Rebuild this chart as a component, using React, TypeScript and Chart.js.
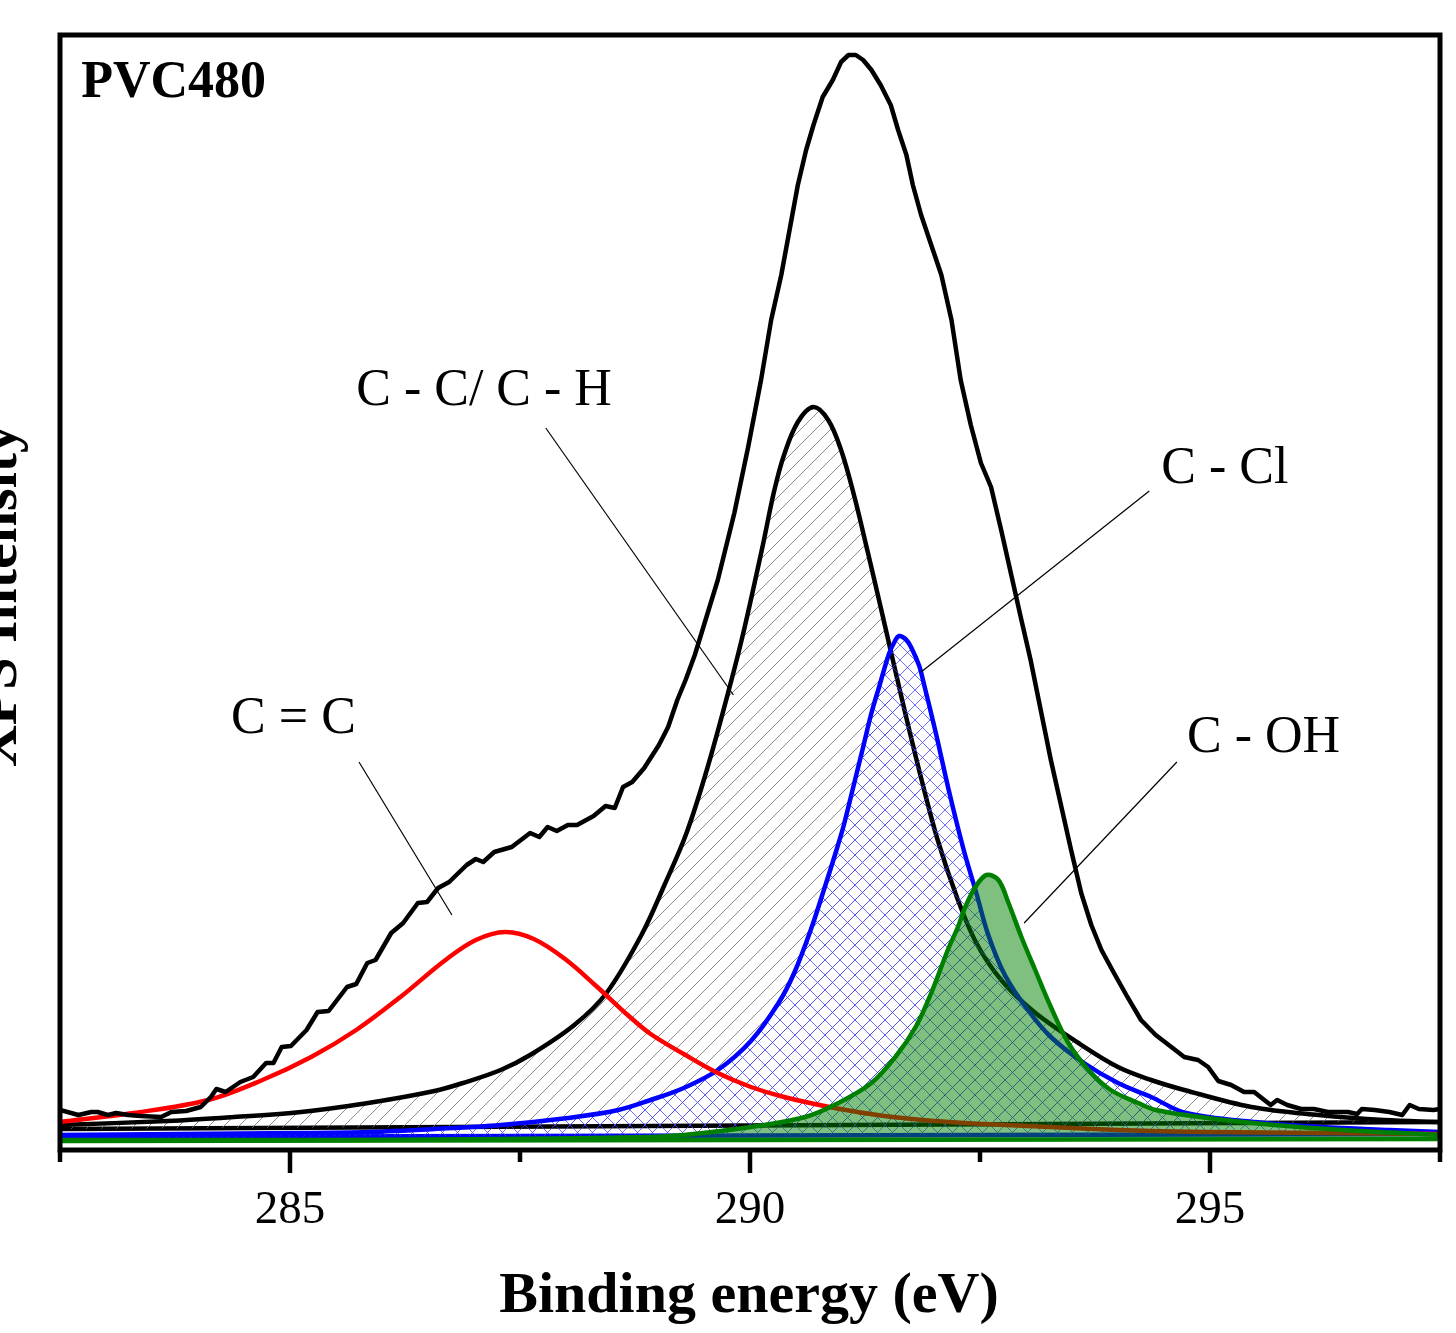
import React, { useEffect, useRef } from "react";
import { Chart, registerables } from "chart.js";

Chart.register(...registerables);

// ---------------- axis ranges & ticks ----------------
const X_MIN = 282.5;
const X_MAX = 297.5;
const Y_MIN = 0;
const Y_MAX = 1115;
const majorTicks = [285, 290, 295];
const minorTicks = [282.5, 287.5, 292.5, 297.5];

// ---------------- measured envelope (raw spectrum) ----------------
const envelopeEnergy = [
  282.5, 282.70, 282.84, 282.91, 283.02, 283.11, 283.24, 283.38, 283.60, 283.71,
  283.87, 284.03, 284.14, 284.20, 284.30, 284.46, 284.60, 284.74, 284.82, 284.91,
  285.01, 285.18, 285.30, 285.42, 285.62, 285.72, 285.84, 285.93, 286.10, 286.23,
  286.39, 286.49, 286.61, 286.73, 286.92, 287.02, 287.10, 287.22, 287.41, 287.61,
  287.71, 287.80, 287.90, 288.02, 288.12, 288.30, 288.43, 288.53, 288.62, 288.72,
  288.85, 289.01, 289.11, 289.21, 289.30, 289.40, 289.50, 289.65, 289.83, 289.98,
  290.12, 290.23, 290.34, 290.45, 290.52, 290.61, 290.69, 290.79, 290.90, 290.99,
  291.07, 291.15, 291.23, 291.32, 291.42, 291.53, 291.61, 291.70, 291.77, 291.86,
  291.97, 292.08, 292.19, 292.29, 292.40, 292.51, 292.62, 292.73, 292.84, 292.95,
  293.05, 293.16, 293.27, 293.38, 293.49, 293.60, 293.71, 293.82, 293.95, 294.09,
  294.25, 294.41, 294.58, 294.72, 294.87, 294.98, 295.09, 295.23, 295.37, 295.48,
  295.59, 295.66, 295.73, 295.84, 295.99, 296.13, 296.28, 296.50, 296.60, 296.65,
  296.79, 296.95, 297.09, 297.17, 297.27, 297.43, 297.5,
];
const envelopeIntensity = [
  40, 35, 38, 38, 35, 37, 35, 34, 33, 38,
  39, 43, 53, 61, 58, 68, 73, 87, 87, 103,
  104, 120, 138, 139, 163, 166, 187, 190, 217, 227,
  247, 248, 262, 268, 285, 291, 288, 298, 303, 317,
  313, 323, 319, 325, 325, 334, 344, 342, 363, 368,
  382, 405, 423, 450, 470, 495, 525, 570, 637, 703,
  770, 830, 875, 930, 965, 1000, 1025, 1053, 1070, 1088,
  1095, 1095, 1090, 1080, 1065, 1045, 1020, 995, 965, 935,
  905, 875, 830, 770, 725, 687, 663, 620, 575, 530,
  490, 440, 390, 345, 300, 257, 225, 200, 178, 155,
  130, 115, 103, 93, 90, 83, 69, 65, 58, 58,
  50, 45, 50, 45, 41, 41, 38, 38, 36, 41,
  40, 38, 35, 45, 41, 40, 41,
];

// ---------------- background line ----------------
const bgEnergy = [282.5, 297.5];
const bgIntensity = [21, 28];

// ---------------- C - C / C - H component ----------------
const ccEnergy = [
  282.5, 283.67, 284.39, 285.12, 285.85, 286.57, 286.88, 287.29, 287.61, 288.09,
  288.44, 288.82, 289.07, 289.31, 289.54, 289.79, 289.94, 290.14, 290.26, 290.37,
  290.52, 290.69, 290.85, 290.99, 291.13, 291.28, 291.42, 291.55, 291.70, 291.86,
  292.04, 292.26, 292.46, 292.73, 293.09, 293.57, 294.00, 294.36, 294.72, 295.45,
  296.18, 296.89, 297.5,
];
const ccIntensity = [
  25, 29, 33, 38, 47, 59, 67, 80, 95, 125,
  157, 215, 265, 317, 383, 467, 522, 605, 658, 695,
  728, 743, 730, 700, 655, 598, 543, 491, 432, 372,
  310, 250, 207, 170, 138, 107, 83, 70, 60, 43,
  35, 30, 28,
];

// ---------------- C - Cl component ----------------
const cclBaseEnergy = [282.5, 297.5];
const cclBaseIntensity = [13, 16];
const cclEnergy = [
  282.5, 285.12, 285.85, 286.57, 287.29, 288.02, 288.57, 288.92, 289.28, 289.65,
  290.01, 290.31, 290.48, 290.66, 290.81, 290.94, 291.02, 291.12, 291.23, 291.32,
  291.40, 291.51, 291.57, 291.62, 291.69, 291.75, 291.84, 291.88, 292.02, 292.16,
  292.32, 292.46, 292.59, 292.77, 293.02, 293.27, 293.63, 294.00, 294.36, 294.74,
  295.48, 296.21, 296.95, 297.5,
];
const cclIntensity = [
  15, 17, 18, 21, 25, 32, 40, 50, 62, 80,
  109, 147, 177, 220, 262, 300, 325, 362, 403, 437,
  462, 496, 508, 514, 511, 503, 484, 470, 417, 360,
  301, 257, 215, 175, 140, 113, 87, 67, 53, 37,
  28, 23, 20, 18,
];

// ---------------- C = C component ----------------
const cceEnergy = [
  282.5, 283.30, 284.11, 284.70, 285.23, 285.72, 286.20, 286.69, 287.02, 287.34,
  287.65, 287.99, 288.34, 288.67, 288.92, 289.28, 289.65, 290.01, 290.37, 290.92,
  291.46, 292.00, 292.55, 293.49, 294.36, 294.97, 297.5,
];
const cceIntensity = [
  28, 37, 50, 70, 93, 120, 153, 190, 210, 218,
  211, 191, 163, 135, 116, 96, 77, 63, 53, 42,
  34, 29, 26, 22, 19, 18, 16,
];

// ---------------- C - OH component ----------------
const cohBaseEnergy = [282.5, 297.5];
const cohBaseIntensity = [9, 11];
const cohEnergy = [
  282.5, 285.12, 287.29, 288.92, 289.28, 290.01, 290.60, 290.96, 291.32, 291.58,
  291.80, 291.97, 292.15, 292.26, 292.34, 292.45, 292.57, 292.70, 292.81, 292.95,
  293.10, 293.27, 293.46, 293.68, 293.92, 294.22, 294.41, 294.97, 295.70, 296.44,
  297.5,
];
const cohIntensity = [
  10, 10, 11, 13, 15, 23, 33, 47, 67, 93,
  123, 157, 200, 223, 243, 263, 275, 270, 247, 213,
  180, 143, 107, 80, 60, 47, 40, 32, 25, 20,
  15,
];

// ---------------- annotations ----------------
const sampleLabel = "PVC480";
const sampleLabelEnergy = 282.73;
const sampleLabelIntensity = 1053;

const peakLabels = ["C = C", "C - C/ C - H", "C - Cl", "C - OH"];
const peakLabelEnergy = [284.36, 285.72, 294.47, 294.75];
const peakLabelIntensity = [417, 745, 667, 398];
const leaderStartEnergy = [285.75, 287.78, 294.34, 294.64];
const leaderStartIntensity = [388, 722, 659, 388];
const leaderEndEnergy = [286.76, 289.82, 291.86, 292.98];
const leaderEndIntensity = [235, 455, 478, 227];

const xTitle = "Binding energy (eV)";
const yTitle = "XPS Intensity";

function toPoints(xs: number[], ys: number[]) {
  const n = Math.min(xs.length, ys.length);
  const out: { x: number; y: number }[] = [];
  for (let i = 0; i < n; i++) out.push({ x: xs[i], y: ys[i] });
  return out;
}

function makeHatch(color: string, size: number, cross: boolean): CanvasPattern | string {
  const c = document.createElement("canvas");
  c.width = size;
  c.height = size;
  const g = c.getContext("2d");
  if (!g) return color;
  g.strokeStyle = color;
  g.lineWidth = 1;
  g.beginPath();
  // '/' direction
  g.moveTo(0, size);
  g.lineTo(size, 0);
  g.moveTo(-2, 2);
  g.lineTo(2, -2);
  g.moveTo(size - 2, size + 2);
  g.lineTo(size + 2, size - 2);
  if (cross) {
    // '\' direction
    g.moveTo(0, 0);
    g.lineTo(size, size);
    g.moveTo(size - 2, -2);
    g.lineTo(size + 2, 2);
    g.moveTo(-2, size - 2);
    g.lineTo(2, size + 2);
  }
  g.stroke();
  const ctx = document.createElement("canvas").getContext("2d");
  const p = ctx ? ctx.createPattern(c, "repeat") : null;
  return p || color;
}

export default function App() {
  const ref = useRef<HTMLCanvasElement | null>(null);

  useEffect(() => {
    const canvas = ref.current;
    if (!canvas) return;

    const grayHatch = makeHatch("rgba(110,110,110,0.8)", 15, false);
    const blueHatch = makeHatch("rgba(60,60,255,0.75)", 15, true);
    const LW = 4.5;

    const decor = {
      id: "decor",
      afterDraw(chart: any) {
        const { ctx, chartArea: a, scales } = chart;
        const xs = scales.x;
        const ys = scales.y;
        ctx.save();

        // leader lines
        ctx.strokeStyle = "#000";
        ctx.lineWidth = 1.2;
        for (let i = 0; i < peakLabels.length; i++) {
          ctx.beginPath();
          ctx.moveTo(xs.getPixelForValue(leaderStartEnergy[i]), ys.getPixelForValue(leaderStartIntensity[i]));
          ctx.lineTo(xs.getPixelForValue(leaderEndEnergy[i]), ys.getPixelForValue(leaderEndIntensity[i]));
          ctx.stroke();
        }

        // peak labels
        ctx.fillStyle = "#000";
        ctx.textAlign = "left";
        ctx.textBaseline = "alphabetic";
        ctx.font = '52px "Liberation Serif", "Times New Roman", serif';
        for (let i = 0; i < peakLabels.length; i++) {
          ctx.fillText(peakLabels[i], xs.getPixelForValue(peakLabelEnergy[i]), ys.getPixelForValue(peakLabelIntensity[i]));
        }

        // sample label
        ctx.font = 'bold 52px "Liberation Serif", "Times New Roman", serif';
        ctx.fillText(sampleLabel, xs.getPixelForValue(sampleLabelEnergy), ys.getPixelForValue(sampleLabelIntensity));

        // frame
        ctx.strokeStyle = "#000";
        ctx.lineWidth = 5;
        ctx.lineJoin = "miter";
        ctx.strokeRect(a.left, a.top, a.right - a.left, a.bottom - a.top);

        // ticks
        ctx.lineWidth = 4.5;
        ctx.lineCap = "butt";
        for (const t of majorTicks) {
          const px = xs.getPixelForValue(t);
          ctx.beginPath();
          ctx.moveTo(px, a.bottom);
          ctx.lineTo(px, a.bottom + 23);
          ctx.stroke();
        }
        for (const t of minorTicks) {
          const px = xs.getPixelForValue(t);
          ctx.beginPath();
          ctx.moveTo(px, a.bottom);
          ctx.lineTo(px, a.bottom + 12);
          ctx.stroke();
        }

        // tick labels
        ctx.font = '47px "Liberation Serif", "Times New Roman", serif';
        ctx.textAlign = "center";
        for (const t of majorTicks) {
          ctx.fillText(String(t), xs.getPixelForValue(t), a.bottom + 73);
        }

        // x title
        ctx.font = 'bold 58px "Liberation Serif", "Times New Roman", serif';
        ctx.fillText(xTitle, (a.left + a.right) / 2 - 1, a.bottom + 162);

        // y title (rotated, partly outside the canvas like the original)
        ctx.save();
        ctx.translate(16, (a.top + a.bottom) / 2 + 3);
        ctx.rotate(-Math.PI / 2);
        ctx.textAlign = "center";
        ctx.fillText(yTitle, 0, 0);
        ctx.restore();

        ctx.restore();
      },
    };

    const chart = new Chart(canvas, {
      type: "line",
      data: {
        datasets: [
          {
            label: "Background",
            data: toPoints(bgEnergy, bgIntensity),
            borderColor: "#000",
            borderWidth: LW,
            fill: false,
            tension: 0,
            order: 10,
          },
          {
            label: "C - C/ C - H",
            data: toPoints(ccEnergy, ccIntensity),
            borderColor: "#000",
            borderWidth: LW,
            backgroundColor: grayHatch as any,
            fill: 0,
            tension: 0.35,
            order: 9,
          },
          {
            label: "C - Cl baseline",
            data: toPoints(cclBaseEnergy, cclBaseIntensity),
            borderColor: "#0000ff",
            borderWidth: LW,
            fill: false,
            tension: 0,
            order: 8,
          },
          {
            label: "C - Cl",
            data: toPoints(cclEnergy, cclIntensity),
            borderColor: "#0000ff",
            borderWidth: LW,
            backgroundColor: blueHatch as any,
            fill: 2,
            tension: 0.35,
            order: 7,
          },
          {
            label: "C = C",
            data: toPoints(cceEnergy, cceIntensity),
            borderColor: "#ff0000",
            borderWidth: LW,
            fill: false,
            tension: 0.35,
            order: 6,
          },
          {
            label: "C - OH baseline",
            data: toPoints(cohBaseEnergy, cohBaseIntensity),
            borderColor: "#008000",
            borderWidth: LW,
            fill: false,
            tension: 0,
            order: 5,
          },
          {
            label: "C - OH",
            data: toPoints(cohEnergy, cohIntensity),
            borderColor: "#008000",
            borderWidth: LW,
            backgroundColor: "rgba(0,128,0,0.5)",
            fill: 5,
            tension: 0.35,
            order: 4,
          },
          {
            label: "Measured",
            data: toPoints(envelopeEnergy, envelopeIntensity),
            borderColor: "#000",
            borderWidth: LW,
            fill: false,
            tension: 0,
            borderJoinStyle: "round",
            order: 3,
          },
        ],
      },
      options: {
        animation: false,
        responsive: false,
        maintainAspectRatio: false,
        layout: { padding: { left: 60, right: 16, top: 35, bottom: 183 } },
        elements: { point: { radius: 0, hoverRadius: 0 } },
        scales: {
          x: { type: "linear", min: X_MIN, max: X_MAX, display: false },
          y: { type: "linear", min: Y_MIN, max: Y_MAX, display: false },
        },
        plugins: {
          legend: { display: false },
          tooltip: { enabled: false },
        },
        events: [],
      },
      plugins: [decor],
    } as any);

    return () => chart.destroy();
  }, []);

  return (
    <div style={{ position: "absolute", left: 0, top: 0, width: 1456, height: 1333, background: "#fff" }}>
      <canvas ref={ref} width={1456} height={1333} style={{ display: "block", width: 1456, height: 1333 }} />
    </div>
  );
}
